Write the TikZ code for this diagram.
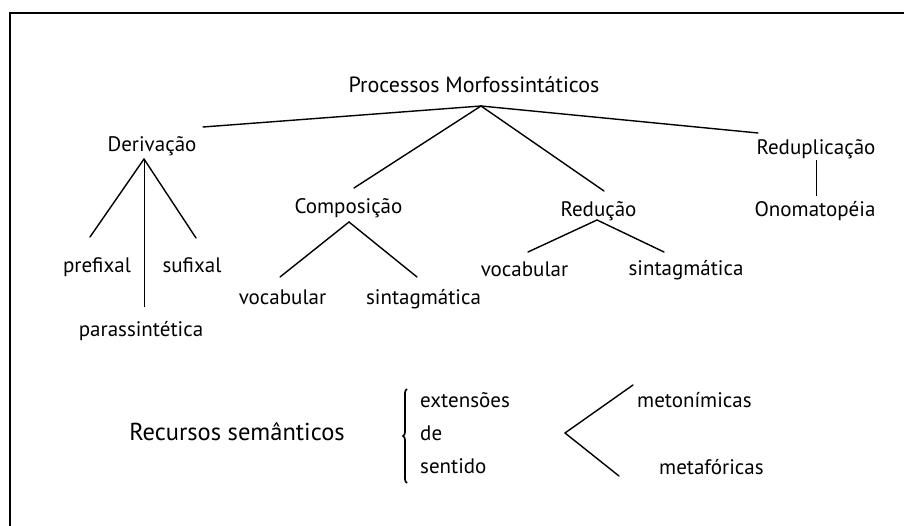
\documentclass[tikz,border=0pt]{standalone}
\usepackage{fontspec}
\setmainfont{PT Sans}
\usepackage{tikz}
\usetikzlibrary{calc}
\usetikzlibrary{decorations.pathreplacing}

\begin{document}
\begin{tikzpicture}[x=1pt,y=1pt,
	lbl/.style={inner sep=0pt,anchor=base,font=\fontsize{21}{25}\selectfont},
	lblw/.style={lbl,anchor=base west},
	ramo/.style={line width=1.4pt,line cap=round}]
	\useasboundingbox (0,0) rectangle (904,-526);
	\draw [line width=2.6pt](10,-526) -- (10,-13) -- (904,-13);
	% labels of the tree
	\node[lbl,font=\fontsize{22}{26}\selectfont] (proc) at (474,-93) {Processos Morfossintáticos};
	\node[lbl] (deriv) at (152,-152) {Derivação};
	\node[lbl] (comp) at (348.5,-214) {Composição};
	\node[lbl] (redu) at (598.5,-217) {Redução};
	\node[lbl] (redup) at (816,-155) {Reduplicação};
	\node[lbl] (onoma) at (815,-217) {Onomatopéia};
	\node[lbl] (pref) at (97,-273) {prefixal};
	\node[lbl] (suf) at (192,-273) {sufixal};
	\node[lbl] (paras) at (141,-336) {parassintética};
	\node[lbl] (voca) at (282.5,-305) {vocabular};
	\node[lbl] (sinta) at (423.5,-305) {sintagmática};
	\node[lbl] (vocb) at (524.5,-277) {vocabular};
	\node[lbl] (sintb) at (686,-276) {sintagmática};
	% semantic part
	\node[lbl,font=\fontsize{24.5}{29}\selectfont] (recur) at (237,-440) {Recursos semânticos};
	\node[lblw] (ext) at (420,-407) {extensões};
	\node[lblw] (de) at (420,-440) {de};
	\node[lblw] (sent) at (420,-473) {sentido};
	\node[lblw] (meto) at (637,-407) {metonímicas};
	\node[lblw] (meta) at (659,-474) {metafóricas};
	% vertices
	\coordinate (procv) at ($(proc.base)+(7,-13)$);
	\coordinate (derivv) at ($(deriv.base)+(-8,-7)$);
	\coordinate (compv) at ($(comp.base)+(0.5,-8)$);
	\coordinate (reduv) at ($(redu.base)+(-1.5,-3)$);
	\coordinate (angv) at ($(de.base west)+(145,7)$);
	% branches
	\draw [ramo](procv) -- ($(deriv.base)+(51,25)$);
	\draw [ramo](procv) -- ($(redup.base)+(-58,22)$);
	\draw [ramo](procv) -- ($(comp.base)+(5.5,26)$);
	\draw [ramo](procv) -- ($(redu.base)+(5.5,26)$);
	\draw [ramo](derivv) -- ($(pref.base)+(-7,36)$);
	\draw [ramo](derivv) -- ($(suf.base)+(4,35)$);
	\draw [line width=0.9pt](derivv) -- ($(paras.base)+(3,29)$);
	\draw [ramo](compv) -- ($(voca.base)+(-2.5,28)$);
	\draw [ramo](compv) -- ($(sinta.base)+(-6.5,28)$);
	\draw [ramo](reduv) -- ($(vocb.base)+(3.5,25)$);
	\draw [ramo](reduv) -- ($(sintb.base)+(-22,24)$);
	\draw [line width=1pt]($(redup.base)+(0,-5)$) -- ($(onoma.base)+(1,21)$);
	\draw [ramo]($(meto.base west)+(-4,22)$) -- (angv) -- ($(meta.base west)+(-40,-2)$);
	\draw [line width=1.7pt,decorate,decoration={brace,amplitude=4pt,aspect=0.5}]
	($(sent.base west)+(-13,-10)$) -- ($(ext.base west)+(-13,18)$);
\end{tikzpicture}
\end{document}
